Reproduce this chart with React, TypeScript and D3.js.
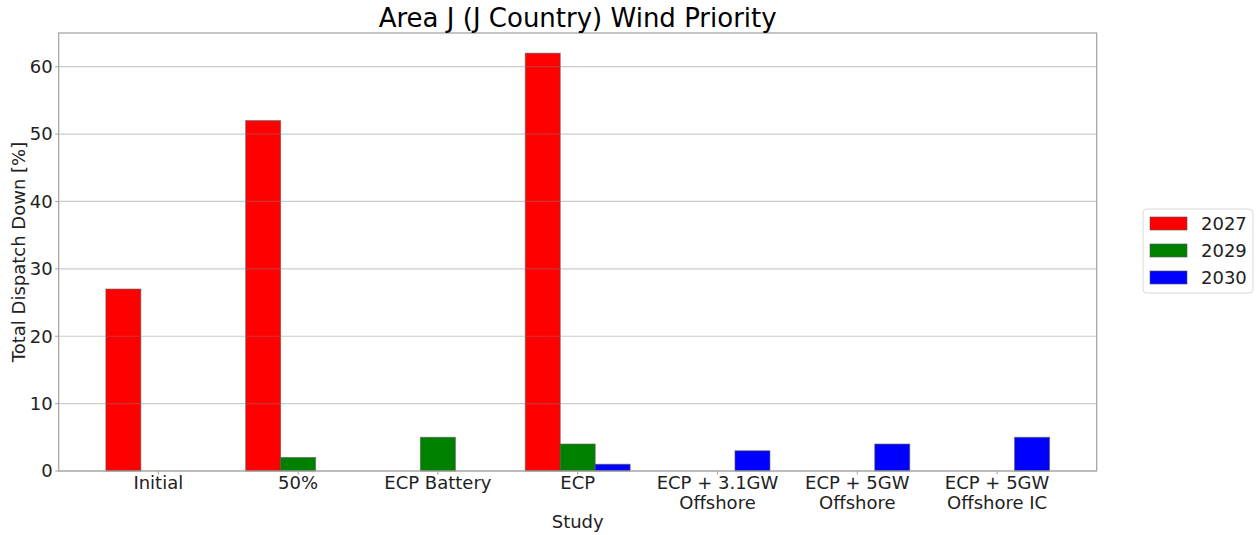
import React from "react";
import * as d3 from "d3";

const categories: string[][] = [
  ["Initial"],
  ["50%"],
  ["ECP Battery"],
  ["ECP"],
  ["ECP + 3.1GW", "Offshore"],
  ["ECP + 5GW", "Offshore"],
  ["ECP + 5GW", "Offshore IC"],
];
const seriesNames = ["2027", "2029", "2030"];
const seriesColors = ["#ff0000", "#008000", "#0000ff"];
const values2027 = [27, 52, 0, 62, 0, 0, 0];
const values2029 = [0, 2, 5, 4, 0, 0, 0];
const values2030 = [0, 0, 0, 1, 3, 4, 5];
const yTicks = [0, 10, 20, 30, 40, 50, 60];

const W = 1258;
const H = 535;
const left = 58.7;
const right = 1096.7;
const top = 33;
const bottom = 471;
const barW = 0.25;
const FONT = "DejaVu Sans, sans-serif";
const FS = 18;

export default function App() {
  const x = d3.scaleLinear().domain([-0.7125, 6.7125]).range([left, right]);
  const y = d3.scaleLinear().domain([0, 65]).range([bottom, top]);
  const allSeries = [values2027, values2029, values2030];
  const offsets = [-barW, 0, barW];

  return (
    <svg width={W} height={H} style={{ position: "absolute", left: 0, top: 0, background: "#fff" }}>
      <rect x={0} y={0} width={W} height={H} fill="#fff" />
      {allSeries.map((vals, s) =>
        vals.map((v, i) =>
          v > 0 ? (
            <rect
              key={`${s}-${i}`}
              x={x(i + offsets[s] - barW / 2)}
              y={y(v)}
              width={x(barW) - x(0)}
              height={y(0) - y(v)}
              fill={seriesColors[s]}
              stroke="#555"
              strokeOpacity={0.6}
              strokeWidth={1}
            />
          ) : null
        )
      )}
      {yTicks.map((t) => (
        <line key={t} x1={left} x2={right} y1={y(t)} y2={y(t)} stroke="#808080" strokeOpacity={0.4} strokeWidth={1.2} />
      ))}
      <rect x={left} y={top} width={right - left} height={bottom - top} fill="none" stroke="#a0a0a0" strokeWidth={1.2} />
      {yTicks.map((t) => (
        <g key={`yt${t}`}>
          <line x1={left - 3.5} x2={left} y1={y(t)} y2={y(t)} stroke="#a0a0a0" />
          <text x={left - 6} y={y(t)} dy="0.35em" textAnchor="end" fontFamily={FONT} fontSize={FS} fill="#222">
            {t}
          </text>
        </g>
      ))}
      {categories.map((lines, i) => (
        <g key={`xt${i}`}>
          <line x1={x(i)} x2={x(i)} y1={bottom} y2={bottom + 3.5} stroke="#a0a0a0" />
          {lines.map((ln, k) => (
            <text key={k} x={x(i)} y={bottom + 18 + k * 20} textAnchor="middle" fontFamily={FONT} fontSize={FS} fill="#222">
              {ln}
            </text>
          ))}
        </g>
      ))}
      <text x={(left + right) / 2} y={528} textAnchor="middle" fontFamily={FONT} fontSize={FS} fill="#222">
        Study
      </text>
      <text
        transform={`translate(25,${(top + bottom) / 2}) rotate(-90)`}
        textAnchor="middle"
        fontFamily={FONT}
        fontSize={FS}
        fill="#222"
      >
        Total Dispatch Down [%]
      </text>
      <text x={(left + right) / 2} y={27} textAnchor="middle" fontFamily={FONT} fontSize={26} fill="#000">
        Area J (J Country) Wind Priority
      </text>
      <rect x={1143} y={209} width={110} height={84} rx={4} fill="#fff" stroke="#d8d8d8" />
      {seriesNames.map((n, s) => (
        <g key={n}>
          <rect x={1150} y={217 + s * 27} width={37} height={13} fill={seriesColors[s]} stroke="#555" strokeOpacity={0.6} />
          <text x={1201} y={223.5 + s * 27} dy="0.35em" fontFamily={FONT} fontSize={FS} fill="#222">
            {n}
          </text>
        </g>
      ))}
    </svg>
  );
}
